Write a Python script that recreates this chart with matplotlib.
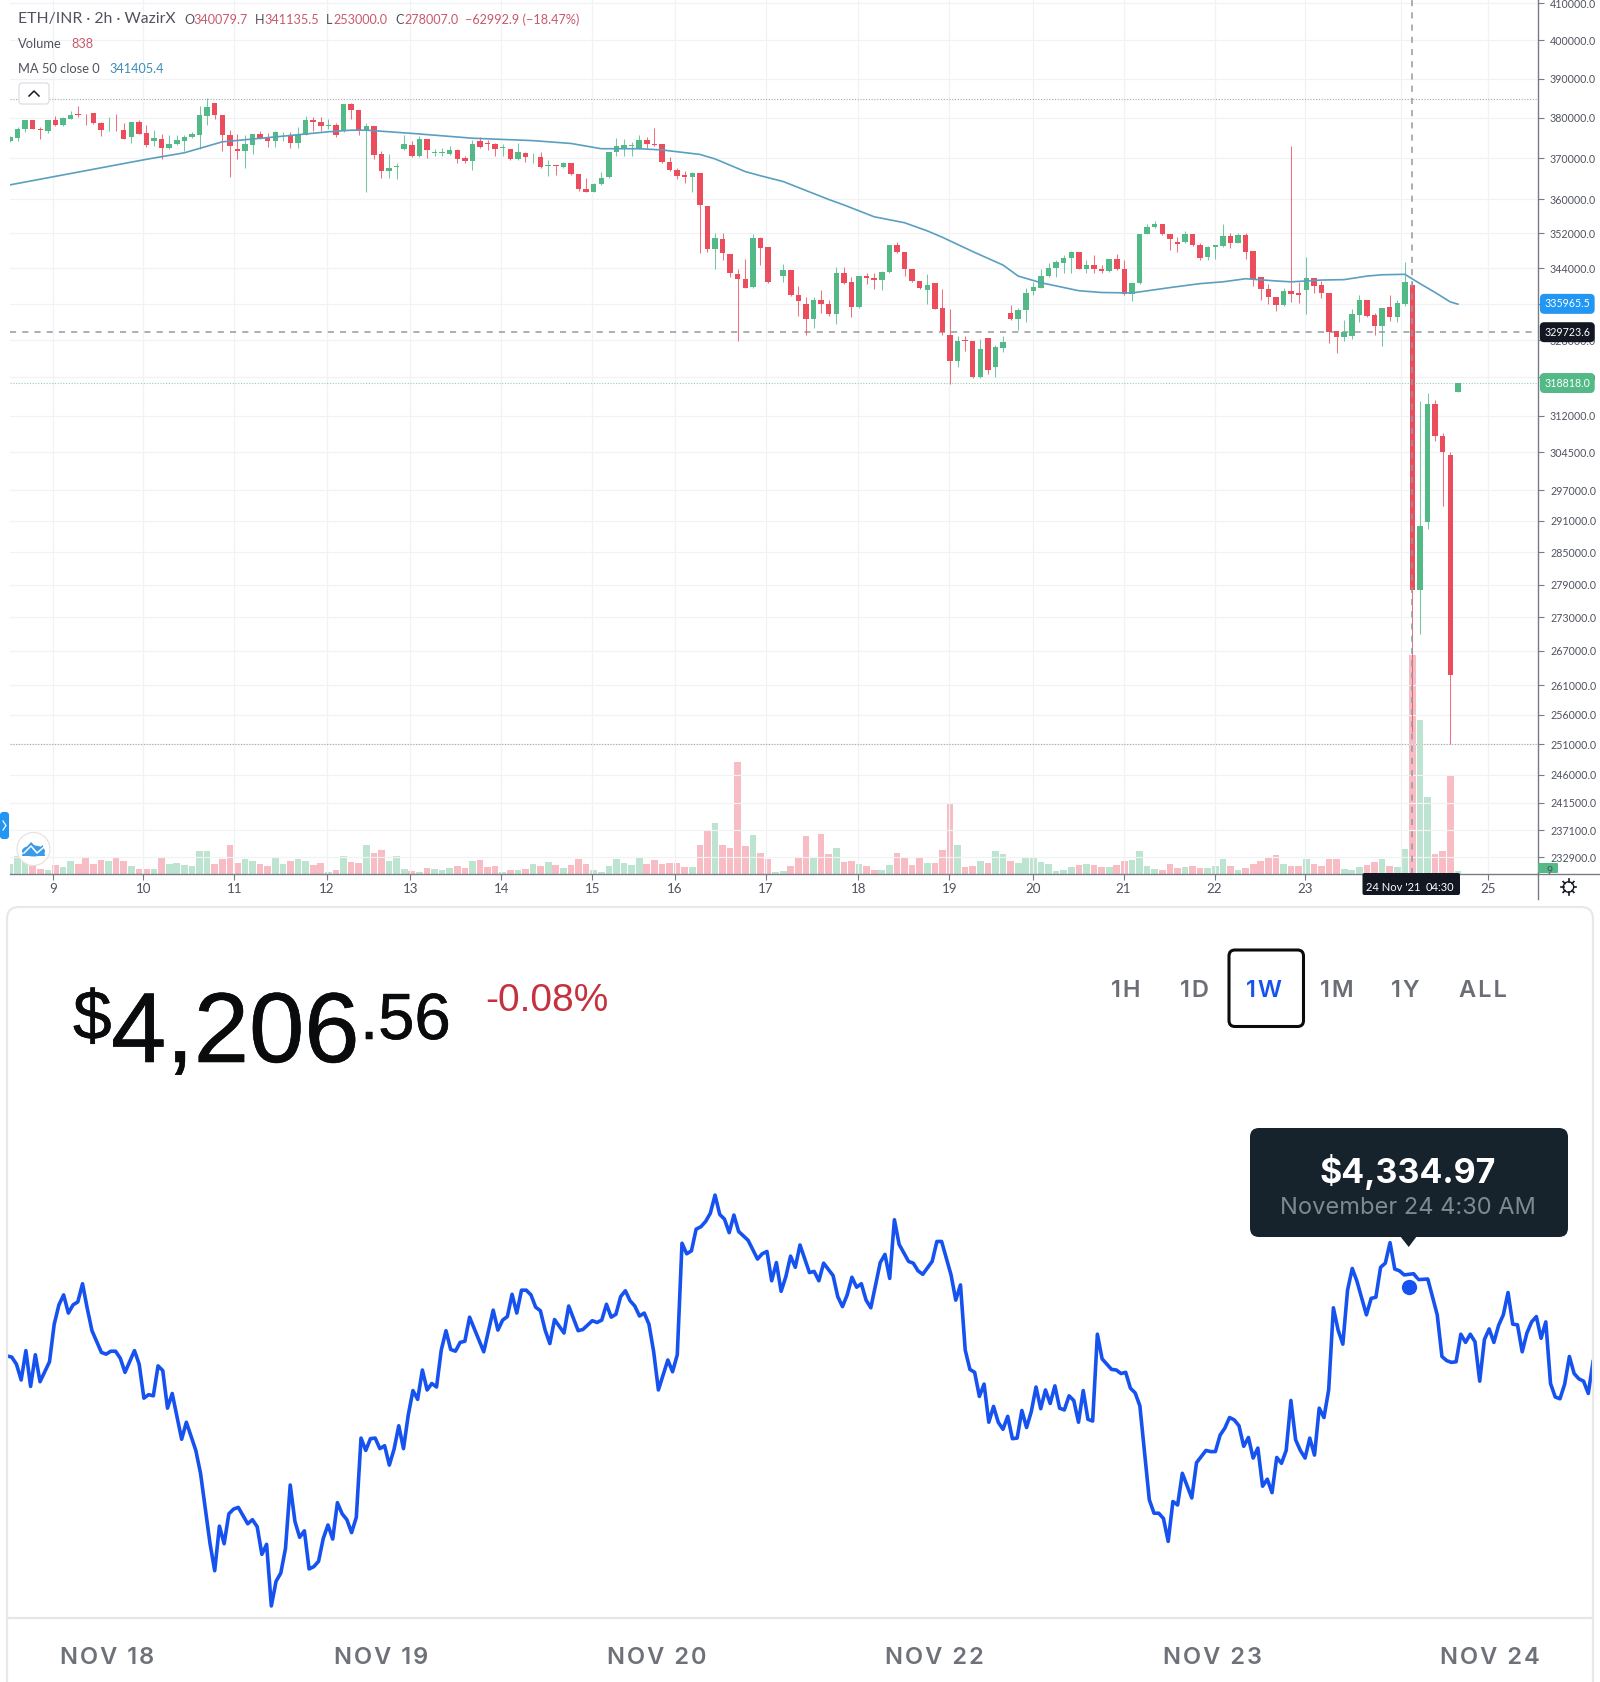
import numpy as np
import matplotlib
matplotlib.use('Agg')
import matplotlib.pyplot as plt
import matplotlib.patheffects as pe
from matplotlib.patches import FancyBboxPatch, Circle, Polygon, Ellipse

W, H = 1600, 1682

# ETH/INR 2h candles, thousands of INR
candle_dir = ("gggrrgrggr" "rrrgrrgrrg" "rggggggrrr" "rggrrggrgg" "rrgrgrrgrr"
              "gggrgrgggr" "rgrrrgrgrg" "rgrgrrrggg" "ggggrrrrrr" "grrgrrrrgr"
              "rggrrrgrrg" "rrgrrggrrr" "rgrrrgrrgr" "ggrggggggg" "grgrrgrrgg"
              "ggrrrgrrgg" "grgrrrrrgr" "rgrrrrgggr" "rgrggrggrr" "rg")
body_hi = [375.3,377.3,379.4,379.4,377.3,379.4,379.4,380.0,380.8,380.9,
           381.0,381.1,378.8,377.0,377.0,376.9,378.9,378.9,376.2,375.0,
           374.8,373.5,374.4,375.2,375.9,380.6,382.7,383.7,380.6,375.8,
           372.2,373.4,375.9,375.9,374.9,376.4,375.8,375.6,375.8,379.4,
           379.4,378.9,378.1,378.1,383.4,383.4,381.9,377.9,377.9,370.9,
           367.7,368.0,373.5,373.2,374.6,374.8,371.4,371.5,372.0,372.0,
           369.9,373.5,374.3,373.7,373.4,372.7,372.3,371.4,371.3,370.5,
           370.3,368.2,368.2,368.9,368.9,366.2,362.6,363.7,365.2,371.4,
           372.9,373.1,373.1,374.5,374.4,373.5,373.4,369.0,367.2,365.8,
           366.4,366.4,358.5,351.0,350.7,347.3,342.7,341.6,351.0,350.9,
           348.8,342.3,343.5,343.5,337.9,335.9,336.9,336.9,335.9,342.9,
           342.9,340.8,342.2,342.2,341.8,343.2,349.3,349.3,347.6,343.9,
           341.0,340.1,340.7,335.0,329.1,327.9,328.0,327.9,326.1,328.4,
           326.4,327.5,333.9,334.7,338.5,339.7,342.2,344.1,345.3,346.4,
           347.6,347.7,344.8,344.8,343.9,346.0,346.0,343.9,340.7,351.9,
           353.4,354.1,354.1,351.8,350.1,351.9,351.9,349.4,348.8,349.3,
           351.4,351.5,351.6,351.6,347.9,341.9,339.3,337.5,338.8,338.8,
           338.3,341.8,341.8,340.1,338.5,329.9,329.7,333.8,336.9,336.9,
           333.4,335.0,335.3,336.1,340.8,340.1,290.0,314.5,314.5,307.9,
           303.9,318.8]
body_lo = [374.1,374.9,377.2,377.2,376.9,376.7,378.2,378.2,379.8,380.7,
           380.9,378.8,376.9,376.9,376.9,374.7,375.3,376.0,373.1,374.2,
           372.6,372.6,373.5,374.1,375.1,375.8,380.4,380.6,375.7,373.0,
           371.8,371.8,373.3,374.8,374.1,374.3,375.6,373.8,373.8,375.8,
           378.9,378.0,377.9,375.7,376.7,381.9,376.9,376.9,370.8,366.8,
           366.8,367.9,372.2,370.4,370.4,371.9,371.2,371.3,371.0,369.8,
           369.3,369.2,372.8,373.5,372.3,372.6,369.8,369.8,370.2,370.4,
           367.9,368.1,368.1,367.9,366.1,362.6,361.8,361.8,363.8,365.5,
           371.4,372.6,373.0,372.4,373.4,373.3,369.1,367.1,365.7,365.5,
           365.5,358.7,348.5,348.5,347.4,342.8,341.5,339.5,339.8,348.7,
           340.9,342.2,342.2,337.9,336.6,332.7,332.7,335.9,333.8,333.8,
           340.7,335.3,335.3,341.7,341.4,341.3,343.1,347.6,343.8,341.1,
           339.6,339.0,334.9,329.8,323.5,323.5,327.9,320.0,320.0,321.5,
           322.2,326.3,332.7,332.7,334.6,338.8,339.6,342.2,344.1,345.2,
           346.4,343.9,343.9,343.8,343.4,343.4,343.9,338.1,338.1,340.6,
           351.9,353.5,351.8,350.8,349.6,349.9,349.3,346.4,346.6,348.9,
           349.1,349.8,349.8,347.8,341.5,339.2,337.4,335.7,335.7,338.1,
           338.0,339.0,340.0,338.3,329.8,328.7,328.7,328.9,333.5,333.3,
           331.1,331.1,333.1,333.1,336.0,278.0,278.0,290.8,307.9,304.5,
           262.7,316.9]
wick_hi = [375.5,377.8,379.4,379.4,377.8,379.4,380.5,380.3,381.6,383.0,
           381.0,381.1,379.0,380.3,381.0,378.8,379.0,379.4,378.2,376.9,
           375.9,375.7,375.8,375.7,376.5,383.0,384.9,383.7,380.6,376.9,
           375.9,375.7,375.9,376.8,376.1,376.6,376.5,376.4,377.8,380.4,
           380.1,380.1,379.6,378.6,383.4,383.7,381.9,378.8,377.9,371.8,
           370.9,368.8,375.7,374.3,375.4,374.8,372.2,372.4,372.9,372.2,
           370.4,374.5,375.1,374.5,373.8,373.5,372.3,373.6,371.4,371.2,
           371.4,369.5,368.2,369.0,368.9,366.2,365.1,363.9,366.5,371.4,
           374.9,374.6,374.0,375.7,375.3,377.4,373.4,370.2,367.7,366.8,
           366.7,366.4,358.5,352.0,352.2,347.3,343.9,346.0,351.8,351.1,
           348.8,342.3,344.9,343.5,339.9,337.5,337.5,339.1,336.9,344.3,
           344.3,342.0,342.2,343.0,342.8,343.3,349.3,350.0,347.6,343.9,
           341.0,342.7,340.7,339.2,334.9,328.8,329.0,327.9,328.3,328.4,
           326.9,328.8,335.7,335.0,339.4,340.9,343.7,345.1,345.8,347.0,
           347.9,347.7,345.8,347.0,344.7,346.2,347.2,345.8,340.7,351.9,
           354.2,354.9,354.1,351.8,351.1,352.6,351.9,349.8,349.0,349.3,
           354.3,352.2,352.0,352.0,347.9,342.0,340.4,337.5,339.4,373.0,
           340.9,346.6,341.8,341.1,338.5,329.9,332.5,334.9,337.9,336.9,
           334.0,335.0,337.9,336.8,345.5,341.1,315.0,316.8,315.2,308.4,
           304.6,318.8]
wick_lo = [373.9,374.3,376.5,377.2,374.6,376.3,378.0,378.0,379.6,380.1,
           378.2,378.5,375.5,376.8,376.6,374.6,373.8,375.9,372.8,373.0,
           369.7,372.3,373.3,371.8,375.0,372.2,378.1,379.7,371.8,365.3,
           369.7,367.5,371.0,374.6,372.8,372.7,374.1,372.4,372.6,375.7,
           376.8,376.7,377.2,375.3,376.5,379.7,375.7,361.8,369.8,365.2,
           365.2,364.9,372.0,370.2,370.2,369.9,370.5,370.4,370.8,368.7,
           368.7,367.1,372.6,372.0,370.4,370.4,369.5,369.5,369.0,368.7,
           367.7,365.7,366.0,367.7,365.9,362.1,361.7,361.7,363.4,365.1,
           370.5,370.5,370.6,372.2,372.4,372.9,368.9,366.8,364.9,363.9,
           361.9,347.4,347.6,343.8,345.8,342.0,327.9,339.4,339.6,344.7,
           340.7,342.2,340.9,337.7,333.2,329.2,330.6,334.0,333.2,331.5,
           340.5,333.1,335.1,340.3,339.2,339.0,343.0,347.4,342.2,340.9,
           339.2,336.0,334.8,329.1,318.7,322.2,325.6,319.9,319.9,320.8,
           320.0,325.4,332.5,330.2,332.0,337.9,339.4,341.9,342.0,342.8,
           342.8,343.8,342.9,342.8,342.9,343.2,343.5,337.9,336.6,340.5,
           351.8,353.2,351.7,348.2,347.8,349.7,349.1,345.8,345.8,346.2,
           348.9,348.7,349.7,346.0,340.0,336.8,335.9,334.4,335.5,336.4,
           336.2,333.8,338.4,337.2,327.3,325.3,327.9,328.3,332.0,333.1,
           329.1,326.8,332.2,331.9,335.5,253.0,270.0,289.4,306.8,293.8,
           251.0,316.9]
volumes = [38,67,45,28,19,15,32,24,47,35,58,35,51,49,64,49,28,19,19,19,
           61,35,41,32,29,88,87,37,55,111,41,55,47,37,28,64,35,49,56,47,
           32,41,6,12,67,45,42,108,77,92,47,67,18,9,4,23,19,15,20,28,
           22,47,51,26,28,4,13,12,19,37,28,44,32,22,32,54,35,13,4,28,
           54,41,32,61,37,51,
           38,41,41,26,26,111,163,195,108,96,429,105,146,79,54,4,8,28,58,143,
           60,150,73,99,44,47,35,28,15,15,31,79,60,31,61,41,41,90,271,111,
           24,28,47,41,86,73,47,41,63,63,44,35,9,15,24,31,37,31,24,24,
           31,47,50,86,28,18,12,35,22,24,28,22,22,28,56,28,12,22,35,47,
           61,70,36,28,28,56,37,28,56,54,18,15,24,31,44,54,27,24,95,838,
           589,293,76,88,374,9]
ma_idx = [0,18,23,28,36,42,45,47,53,61,69,74,78,83,86,91,93,97,99,102,108,110,
          114,118,121,123,127,131,133,136,141,144,148,153,157,160,163,167,169,
          173,176,179,181,184,186,188,190,191]
ma_values = [363.5,369.7,371.3,374.0,375.4,376.5,376.9,376.9,376.1,374.9,374.3,
             373.6,372.3,372.3,372.0,370.9,369.8,366.7,365.7,364.3,360.0,358.7,
             355.9,354.5,352.6,351.1,347.8,344.7,342.2,340.7,338.9,338.5,338.4,
             339.6,340.5,340.9,341.6,341.1,340.9,341.3,341.4,342.2,342.5,342.6,
             340.5,338.5,336.4,335.9]
day_ticks = [5.7,17.6,29.6,41.8,52.8,64.8,76.8,87.7,99.7,111.9,123.9,134.9,146.9,
             158.9,170.8,183.5,195.0]
day_labels = ['9','10','11','12','13','14','15','16','17','18','19','20','21','22',
              '23','','25']
price_ticks = [410,400,390,380,370,360,352,344,336,328,320,312,304.5,297,291,285,
               279,273,267,261,256,251,246,241.5,237.1,232.9]
# this one sits fully behind the 335965.5 tag in the picture
hidden_price_labels = [336]

# ETH/USD 1W line, half-hour samples (samples not read off the picture are skipped)
line_missing = [8,19,26,36,39,42,50,99,100,102,117,120,123,139,156,158,169,174,184,
                190,195,199,233,241,250,253,287,297,300,302]
line_usd = [4217,4215,4203,4176,4226,4165,4219,4173,4207,4271,4304,4321,4290,4304,4309,4340,
            4298,4260,4223,4220,4225,4225,4213,4189,4226,4203,4145,4151,4149,4200,4192,4128,
            4153,4075,4104,4056,4017,3898,3851,3927,3897,3948,3956,3959,3931,3938,3926,3879,
            3896,3791,3833,3847,3889,3997,3935,3908,3919,3854,3858,3867,3906,3929,3905,3967,
            3948,3938,3916,3942,4077,4056,4076,4077,4059,4064,4031,4058,4098,4059,4116,4158,
            4143,4193,4159,4170,4164,4227,4260,4228,4225,4240,4242,4283,4224,4295,4261,4278,
            4284,4322,4290,4329,4329,4321,4300,4294,4261,4238,4279,4256,4302,4260,4262,4277,
            4274,
            4278,4305,4283,4288,4318,4328,4311,4302,4285,4290,4271,4224,4159,4210,4190,4219,
            4409,4391,4396,4433,4437,4446,4460,4491,4458,4450,4427,4457,4429,4414,4382,4391,
            4395,4345,4376,4327,4352,4387,4368,4406,4359,4361,4345,4375,4354,4318,4301,4321,
            4351,4334,4340,4312,4299,4376,4390,4349,4449,4407,4378,4375,4362,4356,4378,4412,
            4412,4355,4312,4338,4227,4194,4189,4148,4169,4104,4131,4104,4092,4114,4076,4077,
            4124,4095,4122,4164,4127,4159,4136,4166,4128,4125,4149,4141,4104,4158,4109,4106,
            4254,4212,4194,4193,4187,4189,4162,4154,4132,3972,
            3949,3949,3940,3901,3969,3963,4017,3975,4035,4056,4054,4054,4082,4094,4112,4108,
            4098,4063,4078,4043,4060,3995,4007,3984,4044,4034,4056,4141,4074,4056,4043,4077,
            4048,4128,4112,4159,4299,4261,4237,4329,4366,4344,4287,4315,4317,4368,4375,4410,
            4365,4362,4355,4357,4347,4348,4287,4216,4209,4206,4207,4254,4240,4254,4241,4174,
            4245,4263,4240,4269,4287,4325,4271,4270,4224,4256,4275,4284,4247,4275,4170,4147,
            4144,4169,4216,4187,4178,4174,4153,4207]
line_ticks = [21.2,79.2,137.7,196.5,255.3,314.2]
line_labels = ['NOV 18','NOV 19','NOV 20','NOV 22','NOV 23','NOV 24']
hover_idx = 297
hover_usd = 4334.97

GREEN, RED = '#53b987', '#eb4d5c'
VGREEN, VRED = '#bde4d0', '#f7bcc4'
TV_TEXT = '#50535e'
TV_FONT = 'Lato'


def px_axes(left, top, right, bottom):
    return [left / W, 1 - bottom / H, (right - left) / W, (bottom - top) / H]


def spaced(s):
    # the site tracks its caps out, matplotlib has no letter spacing
    return '\u200a'.join(s)


fig = plt.figure(figsize=(W / 100, H / 100), dpi=100, facecolor='white')

# volume pane sits under the price pane, same box
box = px_axes(10, 0, 1537.5, 873.5)
ax_vol = fig.add_axes(box, zorder=1)
ax_p = fig.add_axes(box, zorder=2, facecolor='none')

xs = np.arange(len(candle_dir))
up = np.array([c == 'g' for c in candle_dir])

ax_vol.bar(xs, volumes, width=0.88, color=[VGREEN if u else VRED for u in up], linewidth=0)
ax_vol.set_xlim(0, 201.5)
ax_vol.set_ylim(0, 3352)
ax_vol.axis('off')

hi = np.array(body_hi) * 1000
lo = np.array(body_lo) * 1000
whi = np.array(wick_hi) * 1000
wlo = np.array(wick_lo) * 1000
colors = [GREEN if u else RED for u in up]

ax_p.set_yscale('log')
ax_p.set_xlim(0, 201.5)
ax_p.set_ylim(230430, 410815)

ax_p.set_yticks([t * 1000 for t in price_ticks])
ax_p.set_yticklabels(['' if t in hidden_price_labels else f'{t * 1000:.1f}' for t in price_ticks],
                     fontsize=7.7, color=TV_TEXT, family=TV_FONT)
ax_p.yaxis.set_minor_locator(matplotlib.ticker.NullLocator())
ax_p.yaxis.tick_right()
ax_p.set_xticks(day_ticks)
ax_p.set_xticklabels(day_labels, fontsize=9.6, color=TV_TEXT, family=TV_FONT)
ax_p.tick_params(axis='y', length=4, width=0.8, color='#787b86', pad=5)
ax_p.tick_params(axis='x', length=4, width=0.8, color='#787b86', pad=3)
ax_p.grid(True, color='#f1f2f5', linewidth=0.9)
ax_p.set_axisbelow(True)
for name, sp in ax_p.spines.items():
    sp.set_visible(name == 'right')
    sp.set_color('#787b86')
    sp.set_linewidth(1.0)

# level lines
ax_p.axhline(384700, color='#a4a8ae', lw=0.8, ls=(0, (1, 1.5)))
ax_p.axhline(251000, color='#a4a8ae', lw=0.8, ls=(0, (1, 1.5)))
ax_p.axhline(318818, color='#8fd0b0', lw=0.8, ls=(0, (1, 1.5)))
ax_p.axhline(329723.6, color='#9598a1', lw=1.1, ls=(0, (4, 4)))

ax_p.vlines(xs, wlo, whi, colors=colors, linewidth=0.75, alpha=0.8, zorder=3)
ax_p.bar(xs, hi - lo, bottom=lo, width=0.72, color=colors, linewidth=0, zorder=4)
ax_p.axvline(185, color='#9598a1', lw=1.1, ls=(0, (4, 4)), zorder=5)
ax_p.plot(ma_idx, np.array(ma_values) * 1000, color='#5a9fc0', lw=1.2, zorder=6)


def price_tag(ax, y, text, color):
    ax.text(1.0195, y, text, transform=ax.get_yaxis_transform(), ha='center', va='center',
            fontsize=7.7, color='white', family=TV_FONT, zorder=10, clip_on=False,
            bbox=dict(boxstyle='round,pad=0.42', fc=color, ec='none'))


price_tag(ax_p, 335965.5, '335965.5', '#2196f3')
price_tag(ax_p, 329723.6, '329723.6', '#131722')
price_tag(ax_p, 318818.0, '318818.0', GREEN)

# overlay in picture pixels for the page furniture
ui = fig.add_axes([0, 0, 1, 1], zorder=5, facecolor='none')
ui.set_xlim(0, W)
ui.set_ylim(H, 0)
ui.axis('off')


def round_box(x0, y0, x1, y1, r, **kw):
    ui.add_patch(FancyBboxPatch((x0 + r, y0 + r), x1 - x0 - 2 * r, y1 - y0 - 2 * r,
                                boxstyle=f'round,pad={r},rounding_size={r}', **kw))


ui.plot([10, 1600], [873.5, 873.5], color='#787b86', lw=1.0)
ui.plot([1537.5, 1537.5], [873, 899], color='#787b86', lw=1.0)

# legend block
ui.text(18, 19, 'ETH/INR · 2h · WazirX', fontsize=11.3, color=TV_TEXT, family=TV_FONT, va='center')
for x, t, c in [(184, 'O', TV_TEXT), (193, '340079.7', '#c8596b'), (255, 'H', TV_TEXT), (264, '341135.5', '#c8596b'),
                (326, 'L', TV_TEXT), (333, '253000.0', '#c8596b'), (395, 'C', TV_TEXT), (404, '278007.0', '#c8596b'),
                (465, '−62992.9 (−18.47%)', '#c8596b')]:
    ui.text(x, 19.5, t, fontsize=9.1, color=c, family=TV_FONT, va='center')
ui.text(18, 43.5, 'Volume', fontsize=9.3, color=TV_TEXT, family=TV_FONT, va='center')
ui.text(71, 43.5, '838', fontsize=9.1, color='#c8596b', family=TV_FONT, va='center')
ui.text(18, 68.5, 'MA 50 close 0', fontsize=9.3, color=TV_TEXT, family=TV_FONT, va='center')
ui.text(109, 68.5, '341405.4', fontsize=9.1, color='#3b8eb8', family=TV_FONT, va='center')
round_box(19, 83, 49, 104, 3, fc='white', ec='#dcdee3', lw=0.9)
ui.plot([29, 34, 39], [96, 91, 96], color='#131722', lw=1.1)

# volume tag, crosshair time tag
round_box(1538, 863, 1558, 873, 1, fc=GREEN, ec='none')
ui.text(1550, 870, '9', fontsize=7.7, color=TV_TEXT, family=TV_FONT, ha='center', va='center')
round_box(1362.5, 873, 1460, 895, 2, fc='#131722', ec='none', zorder=6)
ui.text(1393, 887, "24 Nov '21", fontsize=8, color='white', family=TV_FONT, ha='center', va='center', zorder=7)
ui.text(1440, 887, '04:30', fontsize=8, color='white', family=TV_FONT, ha='center', va='center', zorder=7)

# settings gear
ui.add_patch(Circle((1568.5, 887), 5.2, fc='white', ec='#131722', lw=1.0))
for a in np.arange(0, 2 * np.pi, np.pi / 4):
    ui.plot([1568.5 + 5 * np.cos(a), 1568.5 + 7.6 * np.cos(a)],
            [887 + 5 * np.sin(a), 887 + 7.6 * np.sin(a)], color='#131722', lw=1.2)

# left tab and logo
round_box(0, 812, 9, 839, 3, fc='#2196f3', ec='none')
ui.plot([3, 6, 3], [821, 825.5, 830], color='white', lw=0.9)
ui.add_patch(Circle((33.5, 849), 16.5, fc='white', ec='#e6e3e3', lw=0.9))
ui.add_patch(Ellipse((33.5, 851), 23, 11, fc='#3a9be8', ec='none'))
ui.add_patch(Polygon([[24, 850], [31, 842], [38, 849], [43, 845], [45, 856], [22, 856]], fc='#3a9be8', ec='none'))
ui.plot([24, 31, 37, 44], [853, 846, 853, 847], color='white', lw=1.1)

# lower card outline
round_box(7, 907, 1593, 1720, 12, fc='none', ec='#e8e8e8', lw=1.6, zorder=0)

SANS = 'Liberation Sans'
heavier = [pe.withStroke(linewidth=0.4, foreground='#0a0b0d')]
ui.text(73, 1039, '$', fontsize=50, color='#0a0b0d', family=SANS, va='baseline', path_effects=heavier)
ui.text(111, 1062, '4,206', fontsize=71.5, color='#0a0b0d', family=SANS, va='baseline', path_effects=heavier)
ui.text(360, 1039, '.56', fontsize=47, color='#0a0b0d', family=SANS, va='baseline', path_effects=heavier)
ui.text(485, 1011, '-0.08%', fontsize=28, color='#c5323f', family=SANS, va='baseline')

for x, t in [(1125.5, '1H'), (1194, '1D'), (1264, '1W'), (1337, '1M'), (1405.5, '1Y'), (1482.5, 'ALL')]:
    ui.text(x, 991, spaced(t), fontsize=17, color='#1652f0' if t == '1W' else '#6b6e75',
            family=['Inter', 'DejaVu Sans'], weight='semibold', ha='center', va='center')
round_box(1229, 950, 1303.5, 1026.5, 6, fc='none', ec='#0a0b0d', lw=2.2)

# hover tooltip
round_box(1250, 1128, 1568, 1237, 9, fc='#17232c', ec='none', zorder=6)
ui.add_patch(Polygon([[1400, 1236], [1417, 1236], [1408.7, 1247]], fc='#17232c', ec='none', zorder=6))
ui.text(1408, 1172, '$4,334.97', fontsize=24.5, color='white', family='Inter', weight='bold',
        ha='center', va='center', zorder=7)
ui.text(1408, 1207.5, 'November 24 4:30 AM', fontsize=17, color='#7e8a90', family='Inter',
        ha='center', va='center', zorder=7)

# 1W line chart
ax_l = fig.add_axes(px_axes(7, 1180, 1593, 1617.7), zorder=3, facecolor='none')
line_idx = [i for i in range(337) if i not in line_missing]
ax_l.plot(line_idx, line_usd, color='#1652f0', lw=2.6, solid_joinstyle='round')
ax_l.scatter([hover_idx], [hover_usd], s=170, color='#1652f0', edgecolors='white', linewidths=2.0, zorder=5)
ax_l.set_xlim(0, 336)
ax_l.set_ylim(3771, 4516.7)
ax_l.set_yticks([])
ax_l.set_xticks(line_ticks)
ax_l.set_xticklabels([spaced(s) for s in line_labels], fontsize=17, color='#6e7178',
                     family=['Inter', 'DejaVu Sans'], weight='semibold')
ax_l.tick_params(axis='x', length=0, pad=21)
for name, sp in ax_l.spines.items():
    sp.set_visible(name == 'bottom')
    sp.set_color('#e6e6e6')
    sp.set_linewidth(1.6)

fig.savefig('out.png', dpi=100)
